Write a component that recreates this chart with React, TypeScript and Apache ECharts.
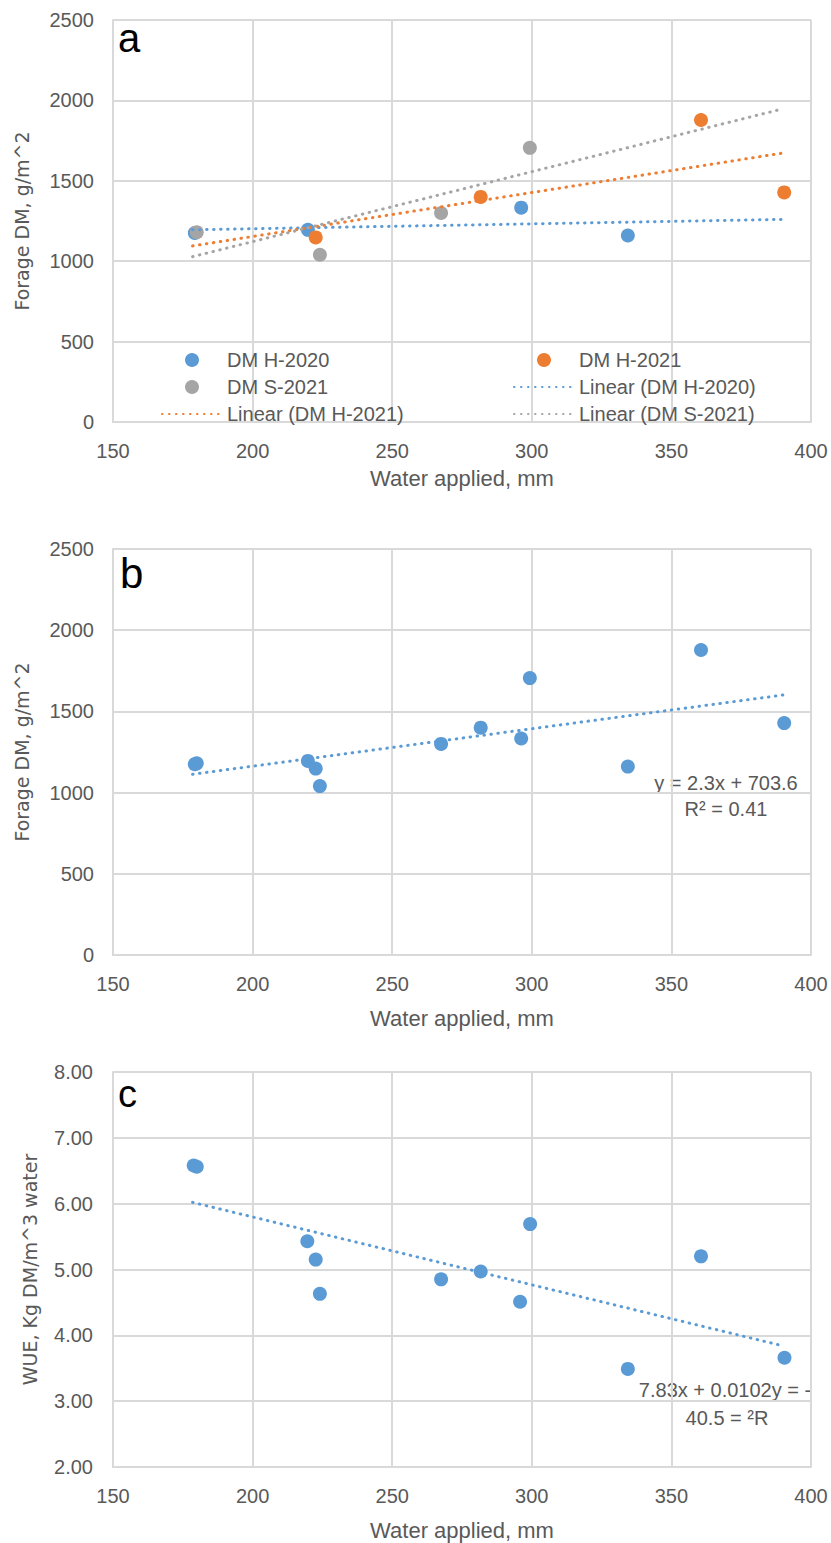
import React, { useEffect, useRef } from "react";
import * as echarts from "echarts";

// Panel a: forage dry matter by series
const waterH2020 = [179.3, 219.8, 296.2, 334.4];
const dmH2020 = [1175, 1195, 1333, 1160];
const waterH2021 = [222.6, 281.7, 360.6, 390.4];
const dmH2021 = [1148, 1400, 1878, 1428];
const waterS2021 = [180.0, 224.1, 267.5, 299.3];
const dmS2021 = [1180, 1040, 1300, 1705];

// Trendline end points
const trendAH2020 = [[178.5, 1195], [390, 1260]];
const trendAH2021 = [[178.5, 1095], [390, 1673]];
const trendAS2021 = [[178.5, 1028], [390, 1948]];
const trendB = [[178.5, 1113], [390, 1601]];
const trendC = [[178.5, 6.02], [390, 3.84]];

// Panel c: WUE
const wueWater = [178.9, 180.0, 219.6, 222.6, 224.1, 267.5, 281.7, 295.8, 299.4, 334.4, 360.6, 390.5];
const wueValues = [6.58, 6.56, 5.43, 5.15, 4.63, 4.85, 4.97, 4.51, 5.69, 3.49, 5.2, 3.66];

const xTicks = { min: 150, max: 400, interval: 50 };
const dmTicks = { min: 0, max: 2500, interval: 500 };
const wueTicks = { min: 2, max: 8, interval: 1 };

const BLUE = "#5B9BD5";
const ORANGE = "#ED7D31";
const GRAY = "#A5A5A5";
const TXT = "#595959";
const GRID = "#d9d9d9";
const FONT = "'Liberation Sans', Arial, sans-serif";

const pairs = (xs: number[], ys: number[]) => xs.map((x, i) => [x, ys[i]]);

export default function App() {
  const ref = useRef<HTMLDivElement>(null);
  useEffect(() => {
    if (!ref.current) return;
    const chart = echarts.init(ref.current, null, { renderer: "svg" });

    const grids = [
      { left: 113, right: 20, top: 20, height: 402 },
      { left: 113, right: 20, top: 549, height: 406 },
      { left: 113, right: 20, top: 1072, height: 395 },
    ];
    const nameGaps = [45, 52, 52];
    const xAxis = grids.map((_, i) => ({
      type: "value",
      gridIndex: i,
      ...xTicks,
      axisLine: { show: true, lineStyle: { color: GRID, width: 2 } },
      axisTick: { show: false },
      splitLine: { show: true, lineStyle: { color: GRID, width: 2 } },
      axisLabel: { color: TXT, fontSize: 20, margin: 19, fontFamily: FONT, formatter: (v: number) => String(v) },
      name: "Water applied, mm",
      nameLocation: "middle",
      nameGap: nameGaps[i],
      nameTextStyle: { color: TXT, fontSize: 22, fontFamily: FONT },
    }));
    const yBase = {
      type: "value",
      axisLine: { show: true, lineStyle: { color: GRID, width: 2 } },
      axisTick: { show: false },
      splitLine: { show: true, lineStyle: { color: GRID, width: 2 } },
      nameLocation: "middle",
      nameTextStyle: { color: TXT, fontSize: 19, fontFamily: "'DejaVu Sans', sans-serif" },
    };
    const yAxis = [
      { ...yBase, gridIndex: 0, ...dmTicks, name: "Forage DM, g/m^2", nameGap: 82,
        axisLabel: { color: TXT, fontSize: 20, margin: 19, fontFamily: FONT, formatter: (v: number) => String(v) } },
      { ...yBase, gridIndex: 1, ...dmTicks, name: "Forage DM, g/m^2", nameGap: 82,
        axisLabel: { color: TXT, fontSize: 20, margin: 19, fontFamily: FONT, formatter: (v: number) => String(v) } },
      { ...yBase, gridIndex: 2, ...wueTicks, name: "WUE, Kg DM/m^3 water", nameGap: 74,
        axisLabel: { color: TXT, fontSize: 20, margin: 20, fontFamily: FONT,
          formatter: (v: number) => v.toFixed(2) } },
    ];

    const scatter = (name: string, data: number[][], color: string, idx: number) => ({
      name, type: "scatter", xAxisIndex: idx, yAxisIndex: idx, data,
      symbolSize: 14, itemStyle: { color, opacity: 1 }, emphasis: { disabled: true },
    });
    const trend = (name: string, data: number[][], color: string, idx: number) => ({
      name, type: "line", xAxisIndex: idx, yAxisIndex: idx, data,
      symbol: "none", showSymbol: false, z: 3,
      lineStyle: { color, width: 3, type: [0.5, 6.5], cap: "round" },
      itemStyle: { color }, emphasis: { disabled: true }, silent: true,
    });

    const legendText = { color: TXT, fontSize: 20, fontFamily: FONT, lineHeight: 20 };
    const lineItem = (name: string) => ({ name, itemStyle: { opacity: 0 } });

    chart.setOption({
      animation: false,
      backgroundColor: "#ffffff",
      grid: grids,
      xAxis,
      yAxis,
      legend: [
        { data: ["DM H-2020", "DM S-2021", lineItem("Linear (DM H-2021)")], orient: "vertical",
          left: 156, top: 345, itemWidth: 60, itemHeight: 14, itemGap: 7,
          textStyle: legendText, selectedMode: false },
        { data: ["DM H-2021", lineItem("Linear (DM H-2020)"), lineItem("Linear (DM S-2021)")], orient: "vertical",
          left: 508, top: 345, itemWidth: 60, itemHeight: 14, itemGap: 7,
          textStyle: legendText, selectedMode: false },
      ],
      series: [
        scatter("DM H-2020", pairs(waterH2020, dmH2020), BLUE, 0),
        scatter("DM H-2021", pairs(waterH2021, dmH2021), ORANGE, 0),
        scatter("DM S-2021", pairs(waterS2021, dmS2021), GRAY, 0),
        trend("Linear (DM H-2020)", trendAH2020, BLUE, 0),
        trend("Linear (DM H-2021)", trendAH2021, ORANGE, 0),
        trend("Linear (DM S-2021)", trendAS2021, GRAY, 0),
        scatter("All DM", [
          ...pairs(waterH2020, dmH2020),
          ...pairs(waterH2021, dmH2021),
          ...pairs(waterS2021, dmS2021),
        ], BLUE, 1),
        trend("Linear (All DM)", trendB, BLUE, 1),
        scatter("WUE", pairs(wueWater, wueValues), BLUE, 2),
        trend("Linear (WUE)", trendC, BLUE, 2),
      ],
      graphic: [
        { type: "text", left: 118, top: 18, style: { text: "a", fontSize: 40, fill: "#000", fontFamily: FONT } },
        { type: "text", left: 120, top: 552, style: { text: "b", fontSize: 42, fill: "#000", fontFamily: FONT } },
        { type: "text", left: 118, top: 1075, style: { text: "c", fontSize: 38, fill: "#000", fontFamily: FONT } },
        { type: "text", x: 726, y: 783, style: { text: "y = 2.3x + 703.6", fontSize: 20, fill: TXT, fontFamily: FONT, align: "center", verticalAlign: "middle" } },
        { type: "text", x: 726, y: 809, style: { text: "R² = 0.41", fontSize: 20, fill: TXT, fontFamily: FONT, align: "center", verticalAlign: "middle" } },
        { type: "text", x: 725, y: 1390, style: { text: "7.83x + 0.0102y = -", fontSize: 20, fill: TXT, fontFamily: FONT, align: "center", verticalAlign: "middle" } },
        { type: "text", x: 727, y: 1418, style: { text: "40.5 = ²R", fontSize: 20, fill: TXT, fontFamily: FONT, align: "center", verticalAlign: "middle" } },
      ],
    });
    return () => chart.dispose();
  }, []);
  return (
    <div
      ref={ref}
      style={{ position: "absolute", left: 0, top: 0, width: 831, height: 1543, background: "#fff" }}
    />
  );
}
